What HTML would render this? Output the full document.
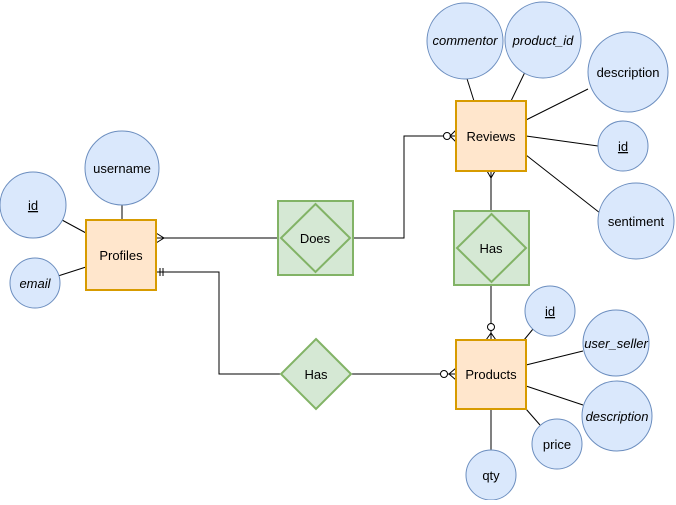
<!DOCTYPE html>
<html><head><style>body{margin:0;background:#fff}</style></head><body>
<svg width="676" height="500" xmlns="http://www.w3.org/2000/svg" font-family="Liberation Sans, sans-serif" font-size="13" text-anchor="middle">
<g stroke="#000" stroke-width="1" fill="none">
<line x1="122" y1="205" x2="122" y2="220"/>
<line x1="62" y1="220" x2="86" y2="233"/>
<line x1="58" y1="276" x2="86" y2="267"/>
<polyline points="156,238 278,238"/>
<path d="M156,233 L164,238 L156,243"/>
<polyline points="353,238 404,238 404,136 456,136"/>
<circle cx="447" cy="136" r="3.5" fill="#fff"/>
<path d="M456,130 L450,136 L456,142"/>
<line x1="463" y1="66" x2="474" y2="101"/>
<line x1="525" y1="72" x2="511" y2="101"/>
<line x1="588" y1="89" x2="526" y2="120"/>
<line x1="598" y1="146" x2="526" y2="136"/>
<line x1="600" y1="213" x2="526" y2="155"/>
<line x1="491" y1="171" x2="491" y2="211"/>
<path d="M487,171 L491,178 L495,171"/>
<line x1="491" y1="285" x2="491" y2="340"/>
<circle cx="491" cy="327" r="3.5" fill="#fff"/>
<path d="M486,340 L491,333 L496,340"/>
<polyline points="156,272 219,272 219,374 281,374"/>
<line x1="160" y1="268" x2="160" y2="276"/><line x1="163" y1="268" x2="163" y2="276"/>
<line x1="351" y1="374" x2="456" y2="374"/>
<circle cx="444" cy="374" r="3.5" fill="#fff"/>
<path d="M456,368 L449,374 L456,380"/>
<line x1="533" y1="329" x2="524" y2="340"/>
<line x1="583" y1="351" x2="526" y2="365"/>
<line x1="583" y1="405" x2="526" y2="386"/>
<line x1="540" y1="425" x2="526" y2="409"/>
<line x1="491" y1="409" x2="491" y2="450"/>
</g>
<g fill="#dae8fc" stroke="#6c8ebf">
<circle cx="122" cy="168" r="37"/><circle cx="33" cy="205" r="33"/><circle cx="35" cy="283" r="25"/>
<circle cx="465" cy="41" r="38"/><circle cx="543" cy="40" r="38"/><circle cx="628" cy="72" r="40"/>
<circle cx="623" cy="146" r="25"/><circle cx="636" cy="221" r="38"/>
<circle cx="550" cy="311" r="25"/><circle cx="616" cy="343" r="33"/><circle cx="617" cy="416" r="35"/>
<circle cx="557" cy="444" r="25"/><circle cx="491" cy="475" r="25"/>
</g>
<g fill="#ffe6cc" stroke="#d79b00" stroke-width="2">
<rect x="86" y="220" width="70" height="70"/><rect x="456" y="101" width="70" height="70"/><rect x="456" y="340" width="70" height="69"/>
</g>
<g fill="#d5e8d4" stroke="#82b366" stroke-width="2">
<rect x="278" y="201" width="75" height="74"/><path d="M315.5,204 L350,238 L315.5,272 L281,238Z"/>
<rect x="454" y="211" width="75" height="74"/><path d="M491.5,214 L526,248 L491.5,282 L457,248Z"/>
<path d="M316,339 L351,374 L316,409 L281,374Z"/>
</g>
<g fill="#000">
<text x="122" y="173">username</text>
<text x="33" y="210" text-decoration="underline">id</text>
<text x="35" y="288" font-style="italic">email</text>
<text x="121" y="260">Profiles</text>
<text x="315" y="243">Does</text>
<text x="491" y="141">Reviews</text>
<text x="491" y="253">Has</text>
<text x="316" y="379">Has</text>
<text x="491" y="379">Products</text>
<text x="465" y="45" font-style="italic">commentor</text>
<text x="543" y="45" font-style="italic">product_id</text>
<text x="628" y="77">description</text>
<text x="623" y="151" text-decoration="underline">id</text>
<text x="636" y="226">sentiment</text>
<text x="550" y="316" text-decoration="underline">id</text>
<text x="616" y="348" font-style="italic">user_seller</text>
<text x="617" y="421" font-style="italic">description</text>
<text x="557" y="449">price</text>
<text x="491" y="480">qty</text>
</g>
</svg>
</body></html>
